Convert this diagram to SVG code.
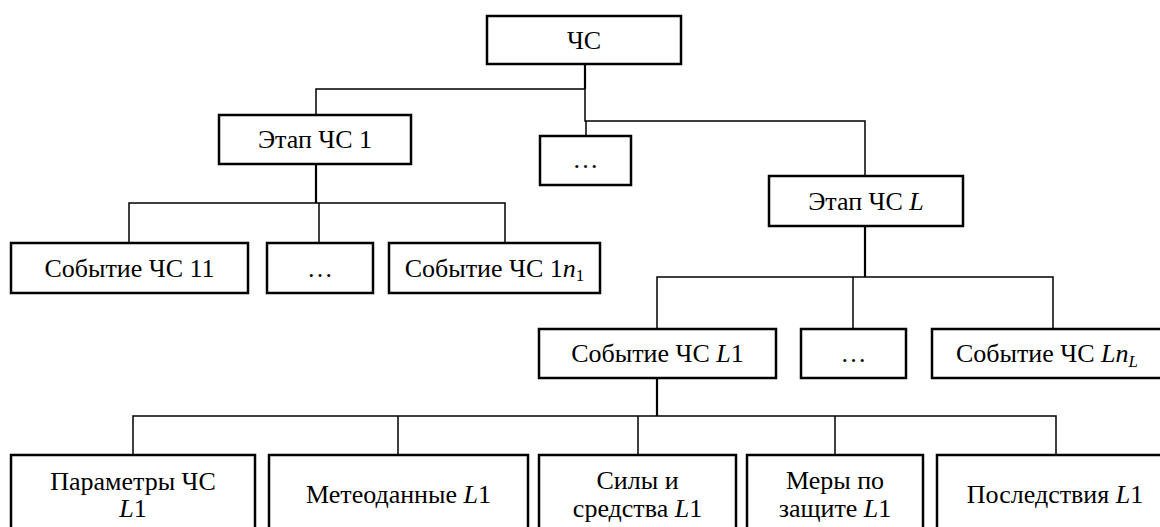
<svg xmlns="http://www.w3.org/2000/svg" width="1160" height="527" viewBox="0 0 1160 527">
<style>
.box{fill:#fff;stroke:#000;stroke-width:2.5}
text{font-family:'Liberation Serif';font-weight:400;font-style:normal;font-size:26px;fill:#000;text-anchor:middle}
tspan.i{font-style:italic}
tspan.sub{font-size:17px}
.c{fill:none;stroke:#000;stroke-width:1.5}
.s{fill:none;stroke:#000;stroke-width:2.2}
</style>
<rect width="1160" height="527" fill="#fff"/>
<g id="connectors">
<path class="s" d="M585 64V89"/>
<path class="c" d="M585 89H316V115"/>
<path class="c" d="M585 89V121H865V176"/>
<path class="c" d="M586 121V136"/>
<path class="s" d="M316 164V203"/>
<path class="c" d="M129 243V203H505V243M319 203V243"/>
<path class="s" d="M865 226V277"/>
<path class="c" d="M657 329V277H1053V329M853 277V329"/>
<path class="s" d="M657 378V416"/>
<path class="c" d="M133 455V416H1056V455M398 416V455M638 416V455M835 416V455"/>
</g>
<g id="n-chs"><rect class="box" x="487" y="16" width="194" height="48"/><text x="584" y="49">ЧС</text></g>
<g id="n-etap1"><rect class="box" x="219" y="115" width="192" height="49"/><text x="315" y="148">Этап ЧС 1</text></g>
<g id="n-dots1"><rect class="box" x="540" y="136" width="91" height="49"/><text x="585.5" y="168">…</text></g>
<g id="n-etapL"><rect class="box" x="769" y="176" width="194" height="50"/><text x="866" y="210">Этап ЧС <tspan class="i">L</tspan></text></g>
<g id="n-ev11"><rect class="box" x="11" y="243" width="237" height="50"/><text x="129.5" y="277">Событие ЧС 11</text></g>
<g id="n-dots2"><rect class="box" x="267" y="243" width="106" height="50"/><text x="320" y="277">…</text></g>
<g id="n-ev1n"><rect class="box" x="389" y="243" width="211" height="50"/><text x="494.5" y="277">Событие ЧС 1<tspan class="i">n</tspan><tspan class="sub" dy="4">1</tspan></text></g>
<g id="n-evL1"><rect class="box" x="539" y="329" width="237" height="49"/><text x="657.5" y="362">Событие ЧС <tspan class="i">L</tspan>1</text></g>
<g id="n-dots3"><rect class="box" x="801" y="329" width="105" height="49"/><text x="853.5" y="362">…</text></g>
<g id="n-evLn"><rect class="box" x="932" y="329" width="240" height="49"/><text x="1047" y="362">Событие ЧС <tspan class="i">Ln</tspan><tspan class="i sub" dy="5">L</tspan></text></g>
<g id="n-params"><rect class="box" x="11" y="455" width="244" height="82"/><text x="133" y="490">Параметры ЧС</text><text x="133" y="517"><tspan class="i">L</tspan>1</text></g>
<g id="n-meteo"><rect class="box" x="269" y="455" width="259" height="82"/><text x="398.5" y="503">Метеоданные <tspan class="i">L</tspan>1</text></g>
<g id="n-forces"><rect class="box" x="539" y="455" width="197" height="82"/><text x="637.5" y="489">Силы и</text><text x="637.5" y="517">средства <tspan class="i">L</tspan>1</text></g>
<g id="n-measures"><rect class="box" x="747" y="455" width="176" height="82"/><text x="835" y="489">Меры по</text><text x="835" y="517">защите <tspan class="i">L</tspan>1</text></g>
<g id="n-conseq"><rect class="box" x="937" y="455" width="240" height="82"/><text x="1055" y="503">Последствия <tspan class="i">L</tspan>1</text></g>
</svg>
